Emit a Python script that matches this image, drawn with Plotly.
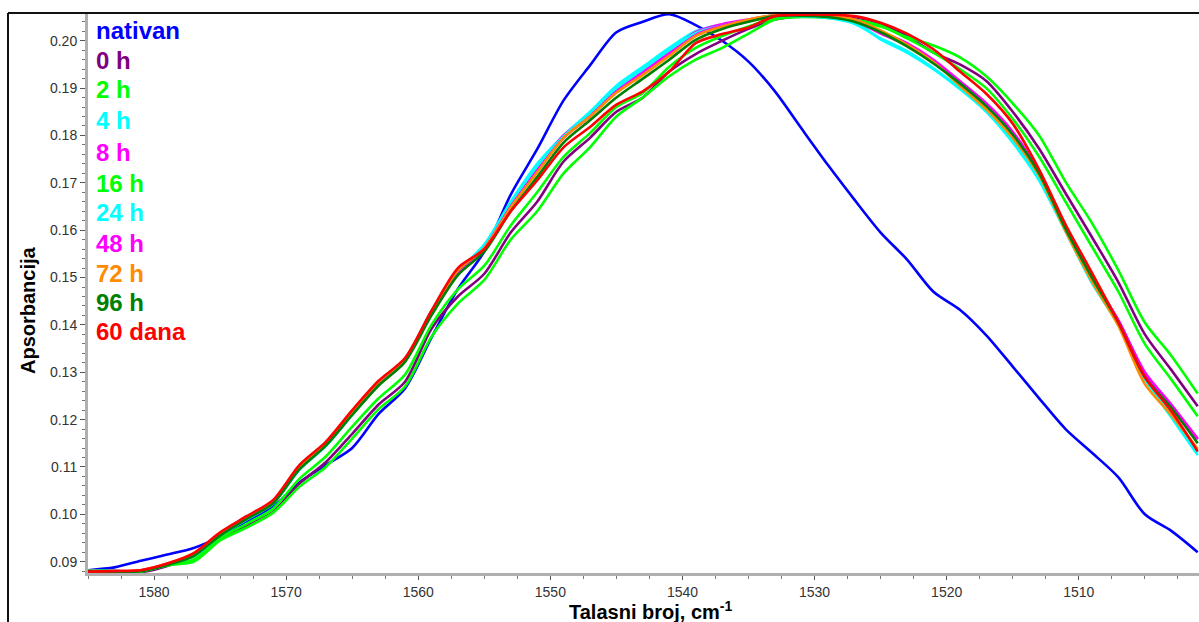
import plotly.graph_objects as go

# Wavenumber grid, cm^-1 (descending, plotted on a reversed axis)
wavenumber = [1585, 1583, 1581, 1579, 1577, 1575, 1573, 1571, 1569, 1567,
              1565, 1563, 1561, 1559, 1557, 1555, 1553, 1551, 1549, 1547,
              1545, 1543, 1541, 1539, 1537, 1535, 1533, 1531, 1529, 1527,
              1525, 1523, 1521, 1519, 1517, 1515, 1513, 1511, 1509, 1507,
              1505, 1503, 1501]

nativan = [0.0882, 0.0888, 0.0902, 0.0915, 0.0929, 0.0953, 0.0985, 0.1016, 0.1067, 0.1104,
           0.1140, 0.1212, 0.1266, 0.1373, 0.1476, 0.1555, 0.1675, 0.1771, 0.1874, 0.1948,
           0.2018, 0.2040, 0.2056, 0.2033, 0.2000, 0.1956, 0.1893, 0.1815, 0.1738, 0.1665,
           0.1595, 0.1538, 0.1470, 0.1432, 0.1378, 0.1312, 0.1245, 0.1180, 0.1130, 0.1078,
           0.1000, 0.0965, 0.0920]

h0 = [0.0880, 0.0879, 0.0878, 0.0891, 0.0913, 0.0950, 0.0975, 0.1005, 0.1065, 0.1110,
      0.1170, 0.1232, 0.1280, 0.1392, 0.1460, 0.1508, 0.1595, 0.1660, 0.1745, 0.1795,
      0.1850, 0.1880, 0.1935, 0.1972, 0.2000, 0.2025, 0.2045, 0.2052, 0.2054, 0.2050,
      0.2036, 0.2010, 0.1975, 0.1950, 0.1915, 0.1850, 0.1772, 0.1678, 0.1585, 0.1490,
      0.1380, 0.1305, 0.1228]

h2 = [0.0882, 0.0880, 0.0879, 0.0893, 0.0900, 0.0945, 0.0972, 0.1003, 0.1058, 0.1100,
      0.1160, 0.1222, 0.1270, 0.1375, 0.1445, 0.1495, 0.1580, 0.1640, 0.1720, 0.1775,
      0.1840, 0.1880, 0.1925, 0.1960, 0.1985, 0.2015, 0.2045, 0.2050, 0.2048, 0.2042,
      0.2030, 0.2008, 0.1990, 0.1965, 0.1925, 0.1868, 0.1800, 0.1702, 0.1615, 0.1515,
      0.1405, 0.1335, 0.1255]

h4 = [0.0880, 0.0880, 0.0881, 0.0893, 0.0912, 0.0955, 0.0990, 0.1024, 0.1096, 0.1146,
      0.1212, 0.1275, 0.1326, 0.1430, 0.1512, 0.1570, 0.1660, 0.1740, 0.1800, 0.1850,
      0.1905, 0.1945, 0.1985, 0.2020, 0.2034, 0.2044, 0.2054, 0.2053, 0.2050, 0.2040,
      0.2003, 0.1975, 0.1940, 0.1898, 0.1850, 0.1785, 0.1705, 0.1597, 0.1488, 0.1400,
      0.1285, 0.1205, 0.1125]

h8 = [0.0880, 0.0880, 0.0881, 0.0894, 0.0914, 0.0957, 0.0992, 0.1026, 0.1098, 0.1148,
      0.1214, 0.1277, 0.1326, 0.1425, 0.1510, 0.1562, 0.1652, 0.1730, 0.1800, 0.1845,
      0.1895, 0.1935, 0.1975, 0.2018, 0.2035, 0.2045, 0.2054, 0.2054, 0.2050, 0.2042,
      0.2015, 0.1990, 0.1955, 0.1910, 0.1865, 0.1805, 0.1722, 0.1605, 0.1500, 0.1410,
      0.1300, 0.1232, 0.1160]

h16 = [0.0881, 0.0880, 0.0880, 0.0892, 0.0905, 0.0950, 0.0980, 0.1012, 0.1075, 0.1122,
       0.1185, 0.1245, 0.1295, 0.1400, 0.1475, 0.1525, 0.1610, 0.1680, 0.1755, 0.1805,
       0.1860, 0.1890, 0.1945, 0.1985, 0.2010, 0.2030, 0.2048, 0.2052, 0.2050, 0.2045,
       0.2032, 0.2005, 0.1975, 0.1940, 0.1900, 0.1835, 0.1755, 0.1660, 0.1565, 0.1470,
       0.1360, 0.1285, 0.1207]

h24 = [0.0881, 0.0880, 0.0881, 0.0894, 0.0911, 0.0955, 0.0989, 0.1022, 0.1094, 0.1144,
       0.1210, 0.1273, 0.1324, 0.1428, 0.1510, 0.1565, 0.1655, 0.1735, 0.1798, 0.1848,
       0.1900, 0.1940, 0.1980, 0.2016, 0.2032, 0.2042, 0.2052, 0.2052, 0.2048, 0.2036,
       0.2005, 0.1978, 0.1942, 0.1900, 0.1852, 0.1790, 0.1710, 0.1600, 0.1492, 0.1402,
       0.1290, 0.1212, 0.1130]

h48 = [0.0880, 0.0880, 0.0882, 0.0895, 0.0916, 0.0958, 0.0993, 0.1027, 0.1100, 0.1150,
       0.1216, 0.1279, 0.1328, 0.1428, 0.1512, 0.1562, 0.1650, 0.1725, 0.1795, 0.1840,
       0.1892, 0.1930, 0.1970, 0.2012, 0.2032, 0.2043, 0.2053, 0.2054, 0.2052, 0.2045,
       0.2020, 0.1995, 0.1960, 0.1915, 0.1868, 0.1808, 0.1722, 0.1602, 0.1498, 0.1408,
       0.1298, 0.1230, 0.1158]

h72 = [0.0880, 0.0880, 0.0882, 0.0896, 0.0916, 0.0960, 0.0994, 0.1028, 0.1100, 0.1150,
       0.1217, 0.1280, 0.1328, 0.1428, 0.1515, 0.1562, 0.1648, 0.1722, 0.1795, 0.1840,
       0.1890, 0.1928, 0.1968, 0.2010, 0.2030, 0.2045, 0.2054, 0.2055, 0.2052, 0.2045,
       0.2022, 0.1992, 0.1955, 0.1905, 0.1855, 0.1795, 0.1715, 0.1598, 0.1492, 0.1398,
       0.1275, 0.1210, 0.1138]

h96 = [0.0880, 0.0879, 0.0880, 0.0893, 0.0912, 0.0955, 0.0990, 0.1023, 0.1095, 0.1145,
       0.1210, 0.1272, 0.1322, 0.1420, 0.1505, 0.1555, 0.1640, 0.1712, 0.1785, 0.1832,
       0.1880, 0.1920, 0.1960, 0.2002, 0.2025, 0.2040, 0.2052, 0.2053, 0.2050, 0.2040,
       0.2018, 0.1988, 0.1952, 0.1910, 0.1862, 0.1802, 0.1720, 0.1603, 0.1500, 0.1405,
       0.1290, 0.1225, 0.1150]

d60 = [0.0879, 0.0880, 0.0882, 0.0896, 0.0918, 0.0962, 0.0996, 0.1030, 0.1104, 0.1153,
       0.1220, 0.1282, 0.1330, 0.1430, 0.1520, 0.1560, 0.1640, 0.1705, 0.1775, 0.1818,
       0.1865, 0.1893, 0.1935, 0.1995, 0.2014, 0.2028, 0.2052, 0.2055, 0.2055, 0.2052,
       0.2038, 0.2015, 0.1982, 0.1935, 0.1888, 0.1825, 0.1728, 0.1612, 0.1510, 0.1405,
       0.1290, 0.1218, 0.1133]

labels = ["nativan", "0 h", "2 h", "4 h", "8 h", "16 h", "24 h", "48 h", "72 h", "96 h", "60 dana"]
colors = ["#0000FF", "#800080", "#00FF00", "#00FFFF", "#FF00FF", "#00FF00",
          "#00FFFF", "#FF00FF", "#FF8C00", "#008000", "#FF0000"]
series = [nativan, h0, h2, h4, h8, h16, h24, h48, h72, h96, d60]

FONT = "Liberation Sans, Arial, sans-serif"

fig = go.Figure()
for name, col, ys in zip(labels, colors, series):
    fig.add_trace(go.Scatter(
        x=wavenumber, y=ys, mode="lines", name=name,
        line=dict(color=col, width=2.6, shape="spline", smoothing=0.8),
        showlegend=False, hoverinfo="x+y+name",
    ))

# Coloured series names stacked in the upper-left corner of the plot
label_y_px = [30, 60, 90, 121, 152, 183, 213, 243, 273, 303, 331]
PLOT_TOP, PLOT_H, PLOT_L, PLOT_W = 13, 560, 88, 1111
annotations = []
for name, col, py in zip(labels, colors, label_y_px):
    annotations.append(dict(
        text=f"<b>{name}</b>", x=(94 - PLOT_L) / PLOT_W, y=(PLOT_TOP + PLOT_H - py) / PLOT_H,
        xref="paper", yref="paper", xanchor="left", yanchor="middle",
        showarrow=False, font=dict(family=FONT, size=24, color=col),
    ))

# Axis titles
annotations.append(dict(
    text="<b>Apsorbancija</b>", x=(28 - PLOT_L) / PLOT_W, y=(PLOT_TOP + PLOT_H - 310) / PLOT_H,
    xref="paper", yref="paper", xanchor="center", yanchor="middle", textangle=-90,
    showarrow=False, font=dict(family=FONT, size=20, color="#000000"),
))
annotations.append(dict(
    text="<b>Talasni broj, cm<sup>-1</sup></b>", x=(650 - PLOT_L) / PLOT_W,
    y=(PLOT_TOP + PLOT_H - 610) / PLOT_H,
    xref="paper", yref="paper", xanchor="center", yanchor="middle",
    showarrow=False, font=dict(family=FONT, size=20, color="#000000"),
))

# Outer frame (top and left edges)
fx = (8 - PLOT_L) / PLOT_W
fb = (PLOT_TOP + PLOT_H - 622) / PLOT_H
shapes = [
    dict(type="line", xref="paper", yref="paper", x0=fx, x1=1.0, y0=1.0, y1=1.0,
         line=dict(color="#111111", width=2)),
    dict(type="line", xref="paper", yref="paper", x0=fx, x1=fx, y0=1.0, y1=fb,
         line=dict(color="#111111", width=2)),
]

fig.update_layout(
    width=1199, height=622,
    margin=dict(l=PLOT_L, r=0, t=PLOT_TOP, b=622 - PLOT_TOP - PLOT_H),
    paper_bgcolor="white", plot_bgcolor="white",
    annotations=annotations, shapes=shapes,
    font=dict(family=FONT, color="#333333"),
)

fig.update_xaxes(
    range=[1585.0, 1500.9], tickmode="array", tickvals=[1580, 1570, 1560, 1550, 1540, 1530, 1520, 1510],
    showgrid=False, zeroline=False, showline=True, linecolor="#B0B0B0", linewidth=3,
    ticks="outside", ticklen=4, tickwidth=1, tickcolor="#555555",
    minor=dict(dtick=2.5, ticks="outside", ticklen=3, tickcolor="#777777", showgrid=False),
    tickfont=dict(family=FONT, size=14, color="#333333"),
)
fig.update_yaxes(
    range=[0.08761, 0.20586], tickmode="array",
    tickvals=[0.09, 0.10, 0.11, 0.12, 0.13, 0.14, 0.15, 0.16, 0.17, 0.18, 0.19, 0.20],
    ticktext=["0.09", "0.10", "0.11", "0.12", "0.13", "0.14", "0.15", "0.16", "0.17", "0.18", "0.19", "0.20"],
    showgrid=False, zeroline=False, showline=True, linecolor="#B0B0B0", linewidth=3,
    ticks="outside", ticklen=5, tickwidth=1, tickcolor="#555555",
    minor=dict(dtick=0.002, ticks="outside", ticklen=3, tickcolor="#777777", showgrid=False),
    tickfont=dict(family=FONT, size=14, color="#333333"),
)

fig.write_html("out.html")
